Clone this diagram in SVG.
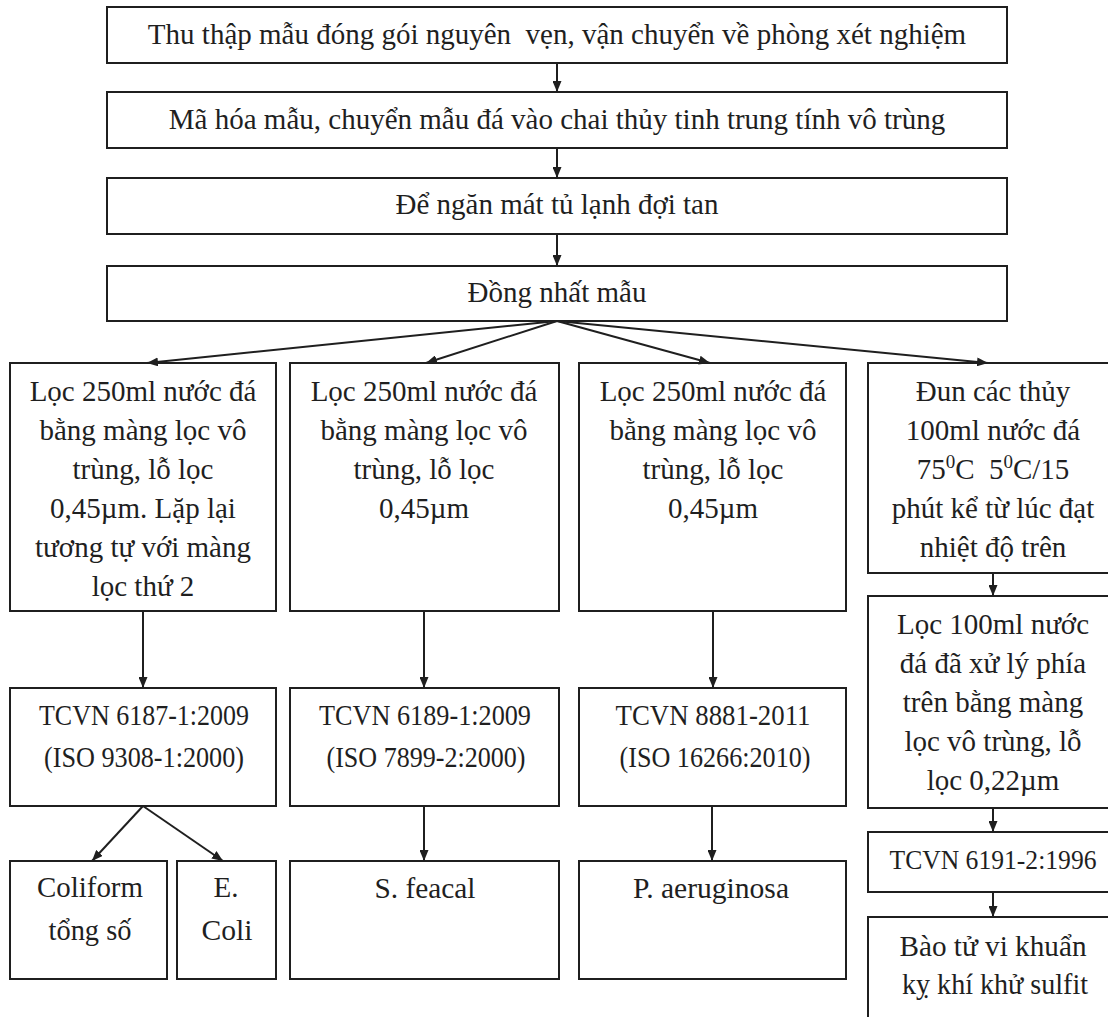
<svg xmlns="http://www.w3.org/2000/svg" width="1108" height="1017" viewBox="0 0 1108 1017">
<style>
.box{fill:#fff;stroke:#1f1f1f;stroke-width:2}
.t{font-family:"Liberation Serif","Times New Roman",serif;font-size:29px;fill:#1f1f1f;text-anchor:middle;white-space:pre}
.c{stroke:#1f1f1f;stroke-width:2;fill:none;marker-end:url(#ah)}
.sup{font-size:19px}
</style>
<defs>
<marker id="ah" markerUnits="userSpaceOnUse" markerWidth="11" markerHeight="9" refX="11" refY="4.5" orient="auto">
<path d="M0,0 L11,4.5 L0,9 z" fill="#1f1f1f"/>
</marker>
</defs>
<rect width="1108" height="1017" fill="#fff"/>

<g id="n1"><rect class="box" x="107" y="7" width="900" height="56"/>
<text class="t" x="557" y="44">Thu thập mẫu đóng gói nguyên  vẹn, vận chuyển về phòng xét nghiệm</text></g>
<g id="n2"><rect class="box" x="107" y="92" width="900" height="56"/>
<text class="t" x="557" y="129">Mã hóa mẫu, chuyển mẫu đá vào chai thủy tinh trung tính vô trùng</text></g>
<g id="n3"><rect class="box" x="107" y="178" width="900" height="56"/>
<text class="t" x="557" y="214">Để ngăn mát tủ lạnh đợi tan</text></g>
<g id="n4"><rect class="box" x="107" y="266" width="900" height="55"/>
<text class="t" x="557" y="302">Đồng nhất mẫu</text></g>

<g id="n5"><rect class="box" x="10" y="363" width="266" height="248"/>
<text class="t" x="143"><tspan x="143" y="401">Lọc 250ml nước đá</tspan><tspan x="143" y="440">bằng màng lọc vô</tspan><tspan x="143" y="479">trùng, lỗ lọc</tspan><tspan x="143" y="518">0,45µm. Lặp lại</tspan><tspan x="143" y="557">tương tự với màng</tspan><tspan x="143" y="596">lọc thứ 2</tspan></text></g>
<g id="n6"><rect class="box" x="290" y="363" width="269" height="248"/>
<text class="t" x="424"><tspan x="424" y="401">Lọc 250ml nước đá</tspan><tspan x="424" y="440">bằng màng lọc vô</tspan><tspan x="424" y="479">trùng, lỗ lọc</tspan><tspan x="424" y="518">0,45µm</tspan></text></g>
<g id="n7"><rect class="box" x="579" y="363" width="267" height="248"/>
<text class="t" x="713"><tspan x="713" y="401">Lọc 250ml nước đá</tspan><tspan x="713" y="440">bằng màng lọc vô</tspan><tspan x="713" y="479">trùng, lỗ lọc</tspan><tspan x="713" y="518">0,45µm</tspan></text></g>
<g id="n8"><rect class="box" x="868" y="363" width="250" height="210"/>
<text class="t" x="993"><tspan x="993" y="401">Đun các thủy</tspan><tspan x="993" y="440">100ml nước đá</tspan><tspan x="993" y="479">75<tspan class="sup" dy="-11">0</tspan><tspan dy="11">C  5</tspan><tspan class="sup" dy="-11">0</tspan><tspan dy="11">C/15</tspan></tspan><tspan x="993" y="518">phút kể từ lúc đạt</tspan><tspan x="993" y="557">nhiệt độ trên</tspan></text></g>
<g id="n9"><rect class="box" x="868" y="596" width="250" height="212"/>
<text class="t" x="993"><tspan x="993" y="634">Lọc 100ml nước</tspan><tspan x="993" y="673">đá đã xử lý phía</tspan><tspan x="993" y="712">trên bằng màng</tspan><tspan x="993" y="751">lọc vô trùng, lỗ</tspan><tspan x="993" y="790">lọc 0,22µm</tspan></text></g>

<g id="n10"><rect class="box" x="10" y="688" width="266" height="118"/>
<text class="t" x="144" y="725" textLength="210" lengthAdjust="spacingAndGlyphs">TCVN 6187-1:2009</text>
<text class="t" x="144" y="767" textLength="200" lengthAdjust="spacingAndGlyphs">(ISO 9308-1:2000)</text></g>
<g id="n11"><rect class="box" x="290" y="688" width="269" height="118"/>
<text class="t" x="425" y="725" textLength="212" lengthAdjust="spacingAndGlyphs">TCVN 6189-1:2009</text>
<text class="t" x="426" y="767" textLength="199" lengthAdjust="spacingAndGlyphs">(ISO 7899-2:2000)</text></g>
<g id="n12"><rect class="box" x="579" y="688" width="267" height="118"/>
<text class="t" x="713" y="725" textLength="195" lengthAdjust="spacingAndGlyphs">TCVN 8881-2011</text>
<text class="t" x="715" y="767" textLength="191" lengthAdjust="spacingAndGlyphs">(ISO 16266:2010)</text></g>
<g id="n13"><rect class="box" x="868" y="832" width="250" height="60"/>
<text class="t" x="993" y="869" style="font-size:27px" textLength="207" lengthAdjust="spacingAndGlyphs">TCVN 6191-2:1996</text></g>

<g id="n14"><rect class="box" x="10" y="861" width="157" height="118"/>
<text class="t" x="90" y="897" textLength="106" lengthAdjust="spacingAndGlyphs">Coliform</text>
<text class="t" x="90" y="940" textLength="83" lengthAdjust="spacingAndGlyphs">tổng số</text></g>
<g id="n15"><rect class="box" x="177" y="861" width="99" height="118"/>
<text class="t" x="226" y="897">E.</text>
<text class="t" x="227" y="940" textLength="51" lengthAdjust="spacingAndGlyphs">Coli</text></g>
<g id="n16"><rect class="box" x="290" y="861" width="269" height="118"/>
<text class="t" x="425" y="898" textLength="101" lengthAdjust="spacingAndGlyphs">S. feacal</text></g>
<g id="n17"><rect class="box" x="579" y="861" width="267" height="118"/>
<text class="t" x="711" y="898" textLength="156" lengthAdjust="spacingAndGlyphs">P. aeruginosa</text></g>
<g id="n18"><rect class="box" x="868" y="917" width="250" height="110"/>
<text class="t" x="993" y="956" textLength="187" lengthAdjust="spacingAndGlyphs">Bào tử vi khuẩn</text>
<text class="t" x="995" y="994" textLength="186" lengthAdjust="spacingAndGlyphs">kỵ khí khử sulfit</text></g>

<g id="connectors">
<line class="c" x1="557" y1="63" x2="557" y2="92"/>
<line class="c" x1="557" y1="148" x2="557" y2="178"/>
<line class="c" x1="557" y1="234" x2="557" y2="266"/>
<line class="c" x1="557" y1="321" x2="147" y2="363"/>
<line class="c" x1="557" y1="321" x2="426" y2="363"/>
<line class="c" x1="557" y1="321" x2="710" y2="363"/>
<line class="c" x1="557" y1="321" x2="988" y2="363"/>
<line class="c" x1="143" y1="611" x2="143" y2="688"/>
<line class="c" x1="424" y1="611" x2="424" y2="688"/>
<line class="c" x1="713" y1="611" x2="713" y2="688"/>
<line class="c" x1="143" y1="806" x2="92" y2="861"/>
<line class="c" x1="143" y1="806" x2="223" y2="861"/>
<line class="c" x1="424" y1="806" x2="424" y2="861"/>
<line class="c" x1="712" y1="806" x2="712" y2="861"/>
<line class="c" x1="993" y1="573" x2="993" y2="596"/>
<line class="c" x1="993" y1="808" x2="993" y2="832"/>
<line class="c" x1="993" y1="892" x2="993" y2="917"/>
</g>
</svg>
